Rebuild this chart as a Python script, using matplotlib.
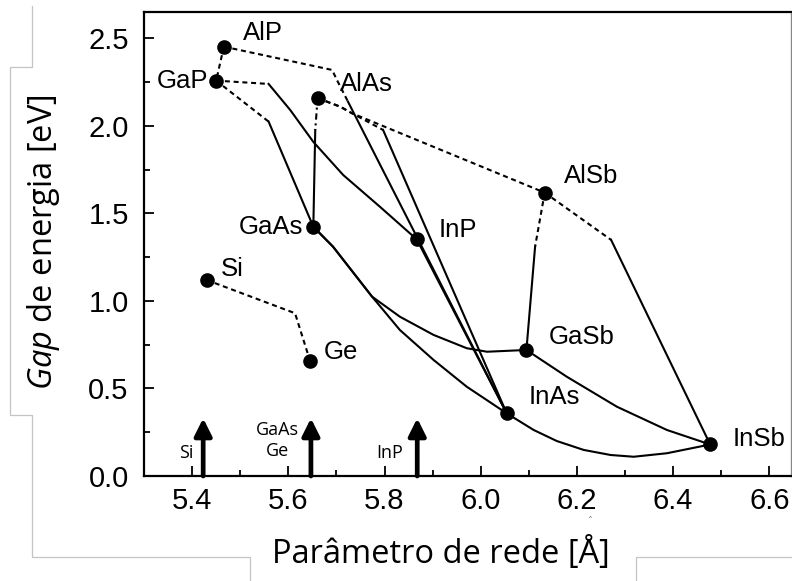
import matplotlib.pyplot as plt
from matplotlib.lines import Line2D

plt.rcParams['mathtext.fontset'] = 'custom'
plt.rcParams['mathtext.rm'] = 'Open Sans'
plt.rcParams['mathtext.it'] = 'Open Sans:italic'

# binary compounds: lattice constant [A], band gap [eV]
names = ['Si', 'Ge', 'GaP', 'AlP', 'AlAs', 'GaAs', 'InP', 'AlSb', 'GaSb', 'InAs', 'InSb']
lattice = [5.430, 5.645, 5.450, 5.466, 5.661, 5.652, 5.867, 6.133, 6.095, 6.054, 6.477]
gap = [1.120, 0.659, 2.259, 2.453, 2.162, 1.424, 1.352, 1.619, 0.720, 0.358, 0.180]

# label offsets (points) and alignment for each compound
label_dx = [10, 10, -6, 14, 16, -7, 16, 14, 16, 16, 16]
label_dy = [8, 6, 0, 10, 10, 0, 7, 12, 9, 12, 4]
label_ha = ['left', 'left', 'right', 'left', 'left', 'right', 'left', 'left', 'left', 'left', 'left']

# indirect-gap parts of the alloy curves (dotted)
si_ge_x = [5.430, 5.614, 5.645]
si_ge_y = [1.120, 0.930, 0.659]
alp_gap_x = [5.466, 5.450]
alp_gap_y = [2.453, 2.259]
alp_ind_x = [5.466, 5.691, 5.701, 5.724]
alp_ind_y = [2.453, 2.320, 2.263, 2.139]
gap_inp_ind_x = [5.450, 5.559]
gap_inp_ind_y = [2.259, 2.240]
gap_gaas_ind_x = [5.450, 5.559]
gap_gaas_ind_y = [2.259, 2.025]
alas_alsb_x = [5.661, 5.680, 5.708, 5.732, 6.133]
alas_alsb_y = [2.162, 2.139, 2.110, 2.073, 1.619]
alas_inas_ind_x = [5.661, 5.680, 5.708, 5.732, 5.797]
alas_inas_ind_y = [2.162, 2.139, 2.110, 2.073, 1.977]
alsb_gasb_ind_x = [6.133, 6.113]
alsb_gasb_ind_y = [1.619, 1.310]
alsb_insb_ind_x = [6.133, 6.271]
alsb_insb_ind_y = [1.619, 1.349]
alas_gaas_ind_x = [5.661, 5.656]
alas_gaas_ind_y = [2.162, 1.977]

# direct-gap parts (solid)
alp_inas_x = [5.724, 6.054]
alp_inas_y = [2.139, 0.358]
gap_inp_x = [5.559, 5.604, 5.652, 5.714, 5.791, 5.867]
gap_inp_y = [2.240, 2.091, 1.909, 1.720, 1.537, 1.352]
gap_gaas_x = [5.559, 5.652]
gap_gaas_y = [2.025, 1.424]
alas_gaas_x = [5.656, 5.652]
alas_gaas_y = [1.977, 1.424]
alas_inas_x = [5.797, 6.054]
alas_inas_y = [1.977, 0.358]
inp_inas_x = [5.867, 6.054]
inp_inas_y = [1.352, 0.358]
alsb_gasb_x = [6.113, 6.095]
alsb_gasb_y = [1.310, 0.720]
alsb_insb_x = [6.271, 6.477]
alsb_insb_y = [1.349, 0.180]
gaas_gasb_x = [5.652, 5.693, 5.774, 5.832, 5.902, 5.971, 6.013, 6.095]
gaas_gasb_y = [1.424, 1.310, 1.025, 0.910, 0.806, 0.730, 0.710, 0.720]
gaas_inas_x = [5.652, 5.693, 5.774, 5.832, 5.902, 5.971, 6.054]
gaas_inas_y = [1.424, 1.310, 1.025, 0.834, 0.663, 0.510, 0.358]
inas_insb_x = [6.054, 6.110, 6.158, 6.214, 6.270, 6.318, 6.387, 6.477]
inas_insb_y = [0.358, 0.263, 0.200, 0.149, 0.120, 0.110, 0.130, 0.180]
gasb_insb_x = [6.095, 6.179, 6.283, 6.387, 6.477]
gasb_insb_y = [0.720, 0.567, 0.396, 0.263, 0.180]

# substrate markers
substrate_x = [5.423, 5.647, 5.868]
substrate_labels = ['Si', 'GaAs\nGe', 'InP']
substrate_label_y = [0.131, 0.202, 0.131]
substrate_label_dx = [-12, -24, -20]
arrow_top = 0.33

fig = plt.figure(figsize=(7.92, 5.81), dpi=100)
ax = fig.add_axes([144 / 792, 105 / 581, 647 / 792, 464 / 581])

dotted = dict(color='k', lw=1.5, ls=(0, (2.4, 1.8)))
solid = dict(color='k', lw=1.5, ls='-')

for xs, ys in [(si_ge_x, si_ge_y), (alp_gap_x, alp_gap_y), (alp_ind_x, alp_ind_y),
               (gap_inp_ind_x, gap_inp_ind_y), (gap_gaas_ind_x, gap_gaas_ind_y),
               (alas_alsb_x, alas_alsb_y), (alas_inas_ind_x, alas_inas_ind_y),
               (alsb_gasb_ind_x, alsb_gasb_ind_y), (alsb_insb_ind_x, alsb_insb_ind_y)]:
    ax.plot(xs, ys, **dotted)
ax.plot(alas_gaas_ind_x, alas_gaas_ind_y, color='k', lw=1.5, ls=(0, (3, 1.8, 1, 1.8)))

for xs, ys in [(alp_inas_x, alp_inas_y), (gap_inp_x, gap_inp_y), (gap_gaas_x, gap_gaas_y),
               (alas_gaas_x, alas_gaas_y), (alas_inas_x, alas_inas_y), (inp_inas_x, inp_inas_y),
               (alsb_gasb_x, alsb_gasb_y), (alsb_insb_x, alsb_insb_y),
               (gaas_gasb_x, gaas_gasb_y), (gaas_inas_x, gaas_inas_y),
               (inas_insb_x, inas_insb_y), (gasb_insb_x, gasb_insb_y)]:
    ax.plot(xs, ys, **solid)

ax.plot(lattice, gap, 'o', color='k', ms=9.5, zorder=5)

for n, x, y, dx, dy, ha in zip(names, lattice, gap, label_dx, label_dy, label_ha):
    ax.annotate(n, (x, y), xytext=(dx, dy), textcoords='offset points',
                ha=ha, va='center', fontsize=18.5, family='Liberation Sans')

for x, lab, ly, ldx in zip(substrate_x, substrate_labels, substrate_label_y, substrate_label_dx):
    ax.annotate('', xy=(x, arrow_top), xytext=(x, 0),
                arrowprops=dict(arrowstyle='-|>', lw=3.4, color='k',
                                mutation_scale=26, shrinkA=0, shrinkB=0))
    ax.annotate(lab, (x, ly), xytext=(ldx, 0), textcoords='offset points',
                ha='center', va='center', fontsize=13, family='Open Sans',
                linespacing=1.25)

ax.set_xlim(5.30, 6.645)
ax.set_ylim(0, 2.651)
ax.set_xticks([5.4, 5.6, 5.8, 6.0, 6.2, 6.4, 6.6])
ax.set_xticks([5.5, 5.7, 5.9, 6.1, 6.3, 6.5], minor=True)
ax.set_yticks([0.0, 0.5, 1.0, 1.5, 2.0, 2.5])
ax.set_yticks([0.25, 0.75, 1.25, 1.75, 2.25], minor=True)
ax.set_xticklabels(['5.4', '5.6', '5.8', '6.0', '6.2', '6.4', '6.6'])
ax.set_yticklabels(['0.0', '0.5', '1.0', '1.5', '2.0', '2.5'])
ax.tick_params(which='both', direction='in', width=1.3, labelsize=21,
               top=False, right=False)
ax.tick_params(which='major', length=7)
ax.tick_params(which='minor', length=4)
ax.tick_params(axis='x', pad=8)
ax.tick_params(axis='y', pad=11)
for lbl in ax.get_xticklabels() + ax.get_yticklabels():
    lbl.set_family('Liberation Sans')

for side in ['left', 'bottom', 'top']:
    ax.spines[side].set_linewidth(1.6)
ax.spines['right'].set_linewidth(1.0)
ax.spines['right'].set_color('#888888')

fig.text(441 / 792, 1 - 554 / 581, 'Parâmetro de rede [Å]', ha='center', va='center',
         fontsize=23.5, family='Open Sans')
fig.text(44 / 792, 1 - 242 / 581, r'$\mathit{Gap}$ de energia [eV]', ha='center', va='center',
         rotation=90, fontsize=23.5, family='Open Sans')
fig.text(590 / 792, 1 - 522 / 581, 'ˆ', ha='center', va='center', fontsize=7, color='#777777')

# light frame edges around the page
frame = '#c4c4c4'
fig.add_artist(Line2D([32 / 792, 32 / 792, 10 / 792, 10 / 792, 32 / 792, 32 / 792, 250 / 792, 250 / 792],
                      [1 - 6 / 581, 1 - 67 / 581, 1 - 67 / 581, 1 - 415 / 581, 1 - 415 / 581,
                       1 - 557 / 581, 1 - 557 / 581, 0],
                      transform=fig.transFigure, color=frame, lw=0.9))
fig.add_artist(Line2D([636 / 792, 636 / 792, 1], [0, 1 - 557 / 581, 1 - 557 / 581],
                      transform=fig.transFigure, color=frame, lw=0.9))

fig.savefig('out.png', dpi=100)
